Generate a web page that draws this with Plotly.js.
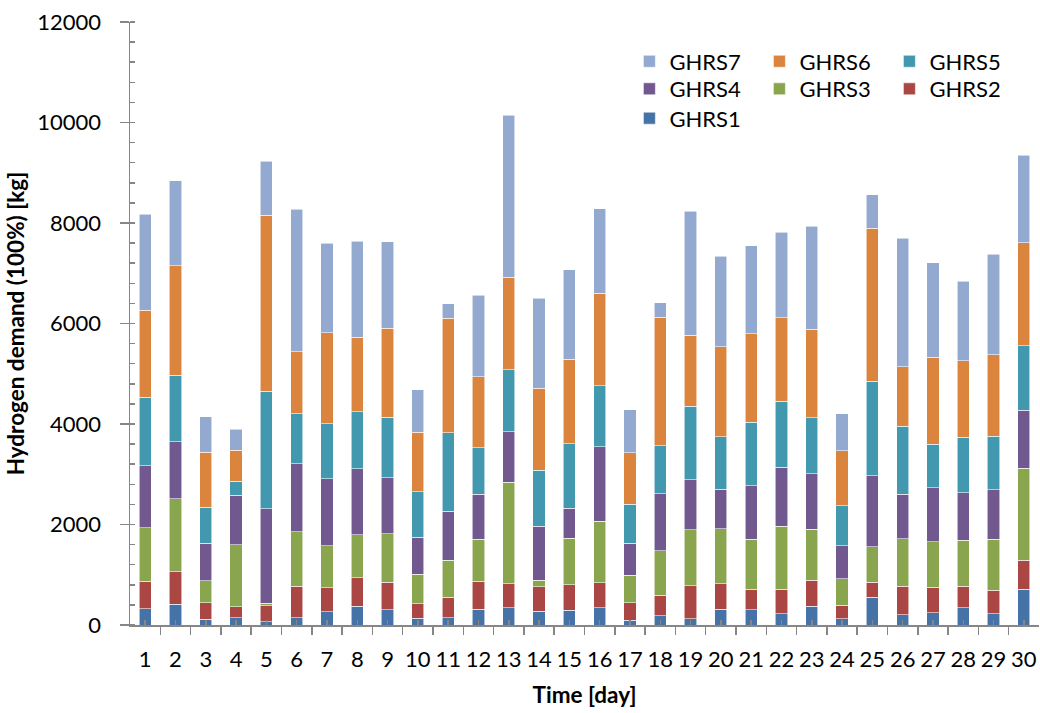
<!DOCTYPE html>
<html>
<head>
<meta charset="utf-8">
<script src="https://cdn.plot.ly/plotly-3.0.1.min.js"></script>
<style>html,body{margin:0;padding:0;background:#fff;}#chart{width:1040px;height:713px;}</style>
</head>
<body>
<div id="chart"></div>
<script>
const days = [1,2,3,4,5,6,7,8,9,10,11,12,13,14,15,16,17,18,19,20,21,22,23,24,25,26,27,28,29,30];
const dayLabels = ["1","2","3","4","5","6","7","8","9","10","11","12","13","14","15","16","17","18","19","20","21","22","23","24","25","26","27","28","29","30"];
const seriesNames = ["GHRS1","GHRS2","GHRS3","GHRS4","GHRS5","GHRS6","GHRS7"];
const seriesColors = ["#4572A7","#AA4643","#89A54E","#71588F","#4198AF","#DB843D","#93A9CF"];
const GHRS1 = [320,413,113,147,67,147,267,373,307,133,149,318,345,277,298,345,95,189,122,318,307,220,374,120,554,207,240,340,220,714];
const GHRS2 = [553,647,334,220,313,620,473,567,540,294,399,554,473,487,500,500,345,399,663,507,400,494,513,274,293,567,507,434,467,574];
const GHRS3 = [1060,1453,433,1226,53,1093,840,860,966,586,744,839,2022,129,933,1224,554,886,1109,1089,1001,1254,1021,527,714,947,914,914,1021,1834];
const GHRS4 = [1234,1134,747,987,1880,1347,1333,1307,1114,734,974,893,1001,1075,595,1482,629,1137,994,791,1067,1167,1107,653,1414,881,1074,947,987,1147];
const GHRS5 = [1366,1320,720,280,2340,1000,1094,1140,1206,900,1562,920,1238,1109,1279,1210,785,960,1461,1042,1261,1321,1114,801,1875,1354,861,1101,1061,1288];
const GHRS6 = [1734,2180,1086,620,3500,1226,1806,1480,1774,1193,2272,1420,1839,1637,1684,1840,1021,2556,1413,1792,1761,1655,1761,1094,3042,1187,1734,1521,1621,2048];
const GHRS7 = [1906,1693,707,420,1074,2840,1780,1913,1720,840,291,1623,3227,1792,1778,1684,852,291,2475,1799,1748,1701,2048,734,667,2555,1875,1581,2001,1748];
const yTitle = "Hydrogen demand (100%) [kg]";
const xTitle = "Time [day]";

const seriesValues = [GHRS1,GHRS2,GHRS3,GHRS4,GHRS5,GHRS6,GHRS7];
// legend row of each series (row 1: GHRS7..5, row 2: GHRS4..2, row 3: GHRS1)
const legendRow = ["legend3","legend2","legend2","legend2","legend","legend","legend"];
const FONT = "Lato, 'Open Sans', sans-serif";
const AXC = "#868686";

const traces = seriesNames.map((name, i) => ({
  type: "bar",
  name: name,
  x: days,
  y: seriesValues[i],
  legend: legendRow[i],
  marker: {color: seriesColors[i], line: {color: "rgba(255,255,255,0.7)", width: 0.8}},
  hoverinfo: "x+y+name"
}));

function legendAt(yPaper) {
  return {
    orientation: "h", traceorder: "reversed",
    xref: "paper", yref: "paper",
    x: 0.5494, xanchor: "left", y: yPaper, yanchor: "top",
    entrywidth: 85, entrywidthmode: "pixels",
    font: {family: FONT, size: 22, color: "#000"},
    bgcolor: "rgba(0,0,0,0)", borderwidth: 0
  };
}

const layout = {
  width: 1040, height: 713, autosize: false,
  margin: {l: 130, r: 1, t: 22, b: 88, pad: 0, autoexpand: false},
  paper_bgcolor: "#fff", plot_bgcolor: "#fff",
  font: {family: FONT, size: 22, color: "#000"},
  barmode: "stack",
  bargap: 0.6,
  showlegend: true,
  legend: legendAt(0.9694),
  legend2: legendAt(0.9237),
  legend3: legendAt(0.875),
  xaxis: {
    type: "linear", range: [0.5, 30.5], fixedrange: true, automargin: false,
    tickmode: "array", tickvals: days, ticktext: dayLabels,
    ticks: "inside", ticklen: 5, tickwidth: 1.5, tickcolor: AXC,
    minor: {tickmode: "linear", tick0: 0.5, dtick: 1, ticks: "outside", ticklen: 8, tickwidth: 1.5, tickcolor: AXC, showgrid: false},
    showline: true, linecolor: AXC, linewidth: 1.5,
    showgrid: false, zeroline: false,
    tickfont: {family: FONT, size: 22, color: "#000"},
    ticklabelstandoff: 14,
    title: {text: xTitle, font: {family: FONT, size: 22.5, color: "#000", weight: "bold"}, standoff: 16}
  },
  xaxis2: {
    type: "linear", range: [0.5, 30.5], overlaying: "x", anchor: "y", side: "bottom",
    tickmode: "linear", tick0: 0.5, dtick: 1,
    ticks: "inside", ticklen: 7, tickwidth: 1.5, tickcolor: AXC,
    showticklabels: false, showline: false, showgrid: false, zeroline: false
  },
  yaxis: {
    range: [0, 12000], fixedrange: true, automargin: false,
    tickmode: "linear", tick0: 0, dtick: 2000, tickformat: "d",
    ticks: "outside", ticklen: 9, tickwidth: 1.5, tickcolor: AXC,
    minor: {tickmode: "linear", tick0: 0, dtick: 400, ticks: "inside", ticklen: 5, tickwidth: 1.5, tickcolor: AXC, showgrid: false},
    showline: true, linecolor: AXC, linewidth: 1.5,
    showgrid: false, zeroline: false,
    tickfont: {family: FONT, size: 22, color: "#000"},
    ticklabelstandoff: 14,
    title: {text: yTitle, font: {family: FONT, size: 22.5, color: "#000", weight: "bold"}, standoff: 6}
  },
  yaxis2: {
    range: [0, 12000], overlaying: "y", anchor: "x", side: "left",
    tickmode: "linear", tick0: 0, dtick: 2000,
    ticks: "inside", ticklen: 7, tickwidth: 1.5, tickcolor: AXC,
    showticklabels: false, showline: false, showgrid: false, zeroline: false
  }
};

Plotly.newPlot("chart", traces, layout, {displayModeBar: false, staticPlot: true});
</script>
</body>
</html>
